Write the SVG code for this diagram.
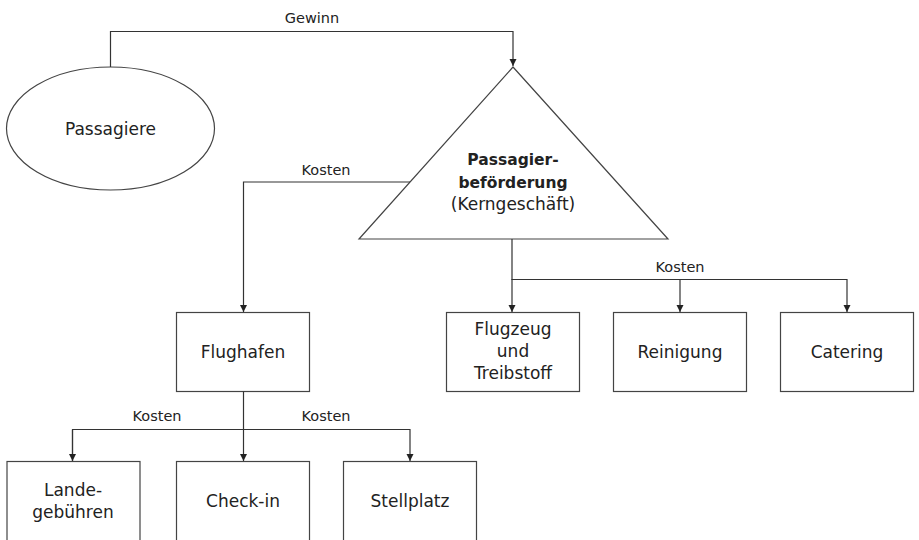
<svg xmlns="http://www.w3.org/2000/svg" width="919" height="540" viewBox="0 0 919 540">
  <defs>
    <marker id="arr" markerUnits="userSpaceOnUse" markerWidth="8" markerHeight="8" refX="7" refY="3.5" orient="auto">
      <path d="M0,0 L7,3.5 L0,7 z" fill="#222"/>
    </marker>
  </defs>
  <style>
    .node { fill: #fff; stroke: #444; stroke-width: 1.2; }
    .conn { fill: none; stroke: #333; stroke-width: 1.2; }
    .t { font-family: "DejaVu Sans", "Noto Sans", sans-serif; font-size: 17px; fill: #222; text-anchor: middle; }
    .b { font-weight: bold; font-size: 15.5px; }
    .lbl { font-family: "DejaVu Sans", "Noto Sans", sans-serif; font-size: 14.5px; fill: #222; text-anchor: middle; }
  </style>
  <rect width="919" height="540" fill="#fff"/>

  <g id="passagiere">
    <ellipse class="node" cx="110.5" cy="128.5" rx="104" ry="61.5"/>
    <text class="t" x="110.5" y="135">Passagiere</text>
  </g>

  <g id="kerngeschaeft">
    <polygon class="node" points="513,67 359,239 668,239"/>
    <text class="t b" x="513" y="165">Passagier-</text>
    <text class="t b" x="513" y="188">beförderung</text>
    <text class="t" x="513" y="210">(Kerngeschäft)</text>
  </g>

  <g id="flughafen">
    <rect class="node" x="176.5" y="312.5" width="133" height="79"/>
    <text class="t" x="243" y="358">Flughafen</text>
  </g>

  <g id="flugzeug">
    <rect class="node" x="446.5" y="312.5" width="133" height="79"/>
    <text class="t" x="513" y="335">Flugzeug</text>
    <text class="t" x="513" y="357">und</text>
    <text class="t" x="513" y="379">Treibstoff</text>
  </g>

  <g id="reinigung">
    <rect class="node" x="613.5" y="312.5" width="133" height="79"/>
    <text class="t" x="680" y="358">Reinigung</text>
  </g>

  <g id="catering">
    <rect class="node" x="780.5" y="312.5" width="133" height="79"/>
    <text class="t" x="847" y="358">Catering</text>
  </g>

  <g id="landegebuehren">
    <rect class="node" x="7" y="461.5" width="133" height="90"/>
    <text class="t" x="73" y="496">Lande-</text>
    <text class="t" x="73" y="518">gebühren</text>
  </g>

  <g id="checkin">
    <rect class="node" x="176.5" y="461.5" width="133" height="90"/>
    <text class="t" x="243" y="507">Check-in</text>
  </g>

  <g id="stellplatz">
    <rect class="node" x="343.5" y="461.5" width="133" height="90"/>
    <text class="t" x="410" y="507">Stellplatz</text>
  </g>

  <g id="connectors">
    <path class="conn" d="M110.5,67 V31.5 H513 V66" marker-end="url(#arr)"/>
    <text class="lbl" x="312" y="23">Gewinn</text>

    <path class="conn" d="M410,182 H243.5 V312" marker-end="url(#arr)"/>
    <text class="lbl" x="326" y="175">Kosten</text>

    <path class="conn" d="M512,239 V279.5 H847"/>
    <path class="conn" d="M512,279 V312" marker-end="url(#arr)"/>
    <path class="conn" d="M680,279 V312" marker-end="url(#arr)"/>
    <path class="conn" d="M847,279 V312" marker-end="url(#arr)"/>
    <text class="lbl" x="680" y="272">Kosten</text>

    <path class="conn" d="M243.5,391.5 V461" marker-end="url(#arr)"/>
    <path class="conn" d="M72.5,461 V429.5 H410 V461" marker-end="url(#arr)"/>
    <path class="conn" d="M72.5,430 V461" marker-end="url(#arr)"/>
    <text class="lbl" x="157" y="421">Kosten</text>
    <text class="lbl" x="326" y="421">Kosten</text>
  </g>
</svg>
